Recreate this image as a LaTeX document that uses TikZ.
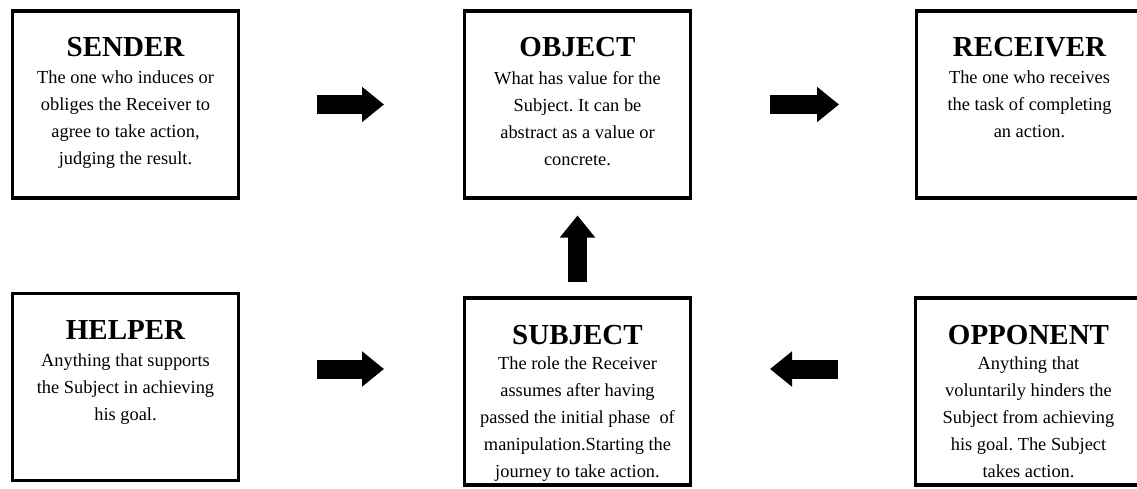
\documentclass[tikz,border=0pt]{standalone}
\usepackage{fontspec}
\setmainfont{Liberation Serif}
\usetikzlibrary{arrows.meta}
\begin{document}
\frenchspacing
\begin{tikzpicture}[x=1pt,y=1pt,
  box/.style={draw, line width=3.5pt, minimum width=226pt, minimum height=187pt, inner sep=0pt, outer sep=0pt},
  boxtitle/.style={anchor=base, font=\fontsize{29}{32}\selectfont\bfseries, inner sep=0pt},
  boxbody/.style={anchor=north, align=center, font=\fontsize{18.4}{27}\selectfont, inner sep=0pt},
  blockarrow/.style={line width=19pt, -{Triangle[length=22pt,width=34pt]}}
]
\useasboundingbox (0,0) rectangle (1137,488);
% boxes
\node[box] (sender)   at (125.5,383.5) {};
\node[box] (object)   at (577.5,383.5) {};
\node[box] (receiver) at (1029.5,383.5) {};
\node[box] (helper)   at (125.5,101) {};
\node[box] (subject)  at (577.5,96.5) {};
\node[box] (opponent) at (1028.5,96.5) {};
% titles
\node[boxtitle] (sendert)   at ([yshift=-46pt]sender.north)   {SENDER};
\node[boxtitle] (objectt)   at ([yshift=-46pt]object.north)   {OBJECT};
\node[boxtitle] (receivert) at ([yshift=-46pt]receiver.north) {RECEIVER};
\node[boxtitle] (helpert)   at ([yshift=-46pt]helper.north)   {HELPER};
\node[boxtitle] (subjectt)  at ([yshift=-46pt]subject.north)  {SUBJECT};
\node[boxtitle] (opponentt) at ([yshift=-46pt]opponent.north) {OPPONENT};
% bodies
\node[boxbody] (senderb) at ([yshift=-60pt]sender.north)
  {The one who induces or\\obliges the Receiver to\\agree to take action,\\judging the result.};
\node[boxbody] (objectb) at ([yshift=-60pt]object.north)
  {What has value for the\\Subject. It can be\\abstract as a value or\\concrete.};
\node[boxbody] (receiverb) at ([yshift=-60pt]receiver.north)
  {The one who receives\\the task of completing\\an action.};
\node[boxbody] (helperb) at ([yshift=-60pt]helper.north)
  {Anything that supports\\the Subject in achieving\\his goal.};
\node[boxbody] (subjectb) at ([yshift=-59pt]subject.north)
  {The role the Receiver\\assumes after having\\passed the initial phase\ \ of\\manipulation.Starting the\\journey to take action.};
\node[boxbody] (opponentb) at ([yshift=-59pt]opponent.north)
  {Anything that\\voluntarily hinders the\\Subject from achieving\\his goal. The Subject\\takes action.};
% arrows
\draw[blockarrow] ([xshift=78.5pt]sender.east) -- ([xshift=-80.5pt]object.west);
\draw[blockarrow] ([xshift=79.5pt]object.east) -- ([xshift=-77.5pt]receiver.west);
\draw[blockarrow] ([shift={(78.5pt,18pt)}]helper.east) -- ([shift={(-80.5pt,22.5pt)}]subject.west);
\draw[blockarrow] ([shift={(-77.5pt,22.5pt)}]opponent.west) -- ([shift={(79.5pt,22.5pt)}]subject.east);
\draw[blockarrow] ([yshift=16pt]subject.north) -- ([yshift=-17.5pt]object.south);
\end{tikzpicture}
\end{document}
